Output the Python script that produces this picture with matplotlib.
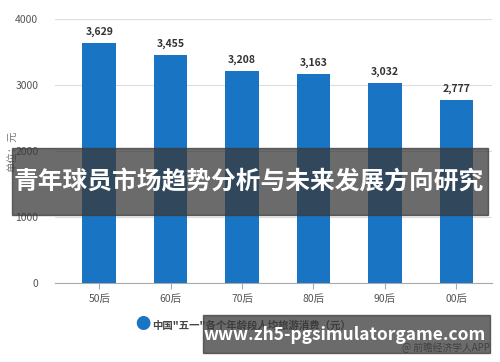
import matplotlib.pyplot as plt
from matplotlib.patches import Rectangle

plt.rcParams['font.family'] = ['Noto Sans CJK SC', 'DejaVu Sans']

# data
groups = ['50后', '60后', '70后', '80后', '90后', '00后']
spend = [3629, 3455, 3208, 3163, 3032, 2777]
y_ticks = [0, 1000, 2000, 3000, 4000]
series_name = '中国"五一"各个年龄段人均旅游消费（元）'

fig = plt.figure(figsize=(5, 3.62), dpi=100)
ax = fig.add_axes([0.11, 0.218, 0.874, 0.73])

x = range(len(groups))
bars = ax.bar(x, spend, width=0.47, color='#1a74c4', zorder=3)
for b, v in zip(bars, spend):
    ax.text(b.get_x() + b.get_width() / 2, v + 90, f'{v:,}', ha='center', va='bottom',
            fontsize=7.5, fontweight='bold', color='#333333')

ax.set_xlim(-0.62, 5.5)
ax.set_ylim(0, 4000)
ax.set_yticks(y_ticks)
ax.set_xticks(list(x))
ax.set_xticklabels(groups)
ax.grid(axis='y', color='#dddddd', linewidth=0.8, zorder=0)
for s in ['top', 'right', 'left']:
    ax.spines[s].set_visible(False)
ax.spines['bottom'].set_color('#aaaaaa')
ax.tick_params(axis='y', length=0, labelsize=7.5, labelcolor='#555555', pad=12)
ax.tick_params(axis='x', length=4, color='#aaaaaa', labelsize=7.5, labelcolor='#555555', pad=4)
ax.set_ylabel('单位：元', fontsize=7.5, color='#777777')
ax.yaxis.set_label_coords(-0.085, 0.5)

# legend
fig.text(0.286, 1 - 325 / 362, '●', fontsize=11, color='#1a74c4', ha='center', va='center')
fig.text(0.305, 1 - 325 / 362, series_name, fontsize=7.5, fontweight='bold', color='#444444',
         ha='left', va='center')
fig.text(0.98, 1 - 348 / 362, '@ 前瞻经济学人APP', fontsize=7, color='#555555', ha='right', va='center')

# overlay banners
fig.patches.append(Rectangle((12 / 500, 1 - 215 / 362), 476 / 500, 67 / 362,
                             transform=fig.transFigure, color='#3a3a3a', alpha=0.75, zorder=5))
fig.text(0.497, 1 - 182 / 362, '青年球员市场趋势分析与未来发展方向研究', fontsize=17.8, fontweight='bold',
         color='white', ha='center', va='center', zorder=6)
fig.patches.append(Rectangle((203 / 500, 1 - 353 / 362), 287 / 500, 38 / 362,
                             transform=fig.transFigure, color='#3a3a3a', alpha=0.75, zorder=5))
fig.text(0.69, 1 - 335 / 362, 'www.zh5-pgsimulatorgame.com', fontsize=12.5, fontweight='bold',
         color='white', ha='center', va='center', zorder=6)

fig.savefig('out.png', dpi=100)
